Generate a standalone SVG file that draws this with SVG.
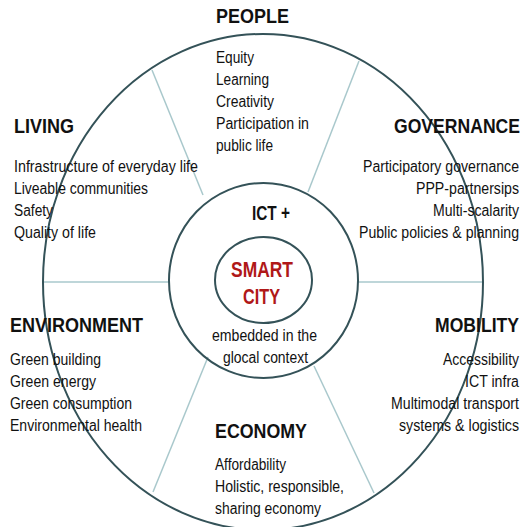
<svg xmlns="http://www.w3.org/2000/svg" width="522" height="527" viewBox="0 0 522 527">
<style>
.ring{fill:none;stroke:#345258;stroke-width:2}
.spoke{stroke:#a9c8cc;stroke-width:1.5}
text{font-family:"Liberation Sans",Arial,sans-serif;fill:#111111}
.t{font-size:21px;font-weight:bold}
.b{font-size:16px}
.red{fill:#b01818;font-size:22px;font-weight:bold}
</style>
<rect width="522" height="527" fill="#ffffff"/>
<g id="connectors">
<line class="spoke" x1="43" y1="282" x2="169" y2="282"/>
<line class="spoke" x1="358" y1="282" x2="483" y2="282"/>
<line class="spoke" x1="152" y1="70" x2="203" y2="195"/>
<line class="spoke" x1="359" y1="61" x2="308" y2="192"/>
<line class="spoke" x1="208" y1="357" x2="153" y2="492"/>
<line class="spoke" x1="314" y1="366" x2="374" y2="493"/>
</g>
<g id="outer-ring"><ellipse class="ring" cx="263" cy="282" rx="220" ry="248"/></g>
<g id="ict-ring"><ellipse class="ring" cx="263.5" cy="280.5" rx="94.5" ry="97.5"/>
<text class="t" x="252" y="220" textLength="38" lengthAdjust="spacingAndGlyphs" style="font-size:20px">ICT +</text>
<text class="b" x="212" y="341" textLength="105" lengthAdjust="spacingAndGlyphs">embedded in the</text>
<text class="b" x="223" y="363" textLength="85" lengthAdjust="spacingAndGlyphs">glocal context</text>
</g>
<g id="smart-city"><ellipse class="ring" cx="263.5" cy="280" rx="48.5" ry="43"/>
<text class="red" x="231" y="277" textLength="62" lengthAdjust="spacingAndGlyphs">SMART</text>
<text class="red" x="243" y="304" textLength="37" lengthAdjust="spacingAndGlyphs">CITY</text>
</g>
<g id="people">
<text class="t" x="216" y="23" textLength="73" lengthAdjust="spacingAndGlyphs">PEOPLE</text>
<text class="b" x="216" y="63" textLength="38" lengthAdjust="spacingAndGlyphs">Equity</text>
<text class="b" x="216" y="85" textLength="53" lengthAdjust="spacingAndGlyphs">Learning</text>
<text class="b" x="216" y="107" textLength="58" lengthAdjust="spacingAndGlyphs">Creativity</text>
<text class="b" x="216" y="129" textLength="93" lengthAdjust="spacingAndGlyphs">Participation in</text>
<text class="b" x="216" y="151" textLength="57" lengthAdjust="spacingAndGlyphs">public life</text>
</g>
<g id="living">
<text class="t" x="14" y="133" textLength="60" lengthAdjust="spacingAndGlyphs">LIVING</text>
<text class="b" x="14" y="172" textLength="184" lengthAdjust="spacingAndGlyphs">Infrastructure of everyday life</text>
<text class="b" x="14" y="194" textLength="134" lengthAdjust="spacingAndGlyphs">Liveable communities</text>
<text class="b" x="14" y="216" textLength="39" lengthAdjust="spacingAndGlyphs">Safety</text>
<text class="b" x="14" y="238" textLength="82" lengthAdjust="spacingAndGlyphs">Quality of life</text>
</g>
<g id="governance">
<text class="t" x="394" y="133" textLength="126" lengthAdjust="spacingAndGlyphs">GOVERNANCE</text>
<text class="b" x="363" y="172" textLength="156" lengthAdjust="spacingAndGlyphs">Participatory governance</text>
<text class="b" x="416" y="194" textLength="103" lengthAdjust="spacingAndGlyphs">PPP-partnersips</text>
<text class="b" x="433" y="216" textLength="86" lengthAdjust="spacingAndGlyphs">Multi-scalarity</text>
<text class="b" x="359" y="238" textLength="160" lengthAdjust="spacingAndGlyphs">Public policies &amp; planning</text>
</g>
<g id="environment">
<text class="t" x="10" y="332" textLength="133" lengthAdjust="spacingAndGlyphs">ENVIRONMENT</text>
<text class="b" x="10" y="365" textLength="91" lengthAdjust="spacingAndGlyphs">Green building</text>
<text class="b" x="10" y="387" textLength="86" lengthAdjust="spacingAndGlyphs">Green energy</text>
<text class="b" x="10" y="409" textLength="122" lengthAdjust="spacingAndGlyphs">Green consumption</text>
<text class="b" x="10" y="431" textLength="132" lengthAdjust="spacingAndGlyphs">Environmental health</text>
</g>
<g id="mobility">
<text class="t" x="435" y="332" textLength="84" lengthAdjust="spacingAndGlyphs">MOBILITY</text>
<text class="b" x="443" y="365" textLength="76" lengthAdjust="spacingAndGlyphs">Accessibility</text>
<text class="b" x="465" y="387" textLength="54" lengthAdjust="spacingAndGlyphs">ICT infra</text>
<text class="b" x="391" y="409" textLength="128" lengthAdjust="spacingAndGlyphs">Multimodal transport</text>
<text class="b" x="399" y="431" textLength="120" lengthAdjust="spacingAndGlyphs">systems &amp; logistics</text>
</g>
<g id="economy">
<text class="t" x="215" y="438" textLength="92" lengthAdjust="spacingAndGlyphs">ECONOMY</text>
<text class="b" x="215" y="470" textLength="71" lengthAdjust="spacingAndGlyphs">Affordability</text>
<text class="b" x="215" y="492" textLength="129" lengthAdjust="spacingAndGlyphs">Holistic, responsible,</text>
<text class="b" x="215" y="514" textLength="106" lengthAdjust="spacingAndGlyphs">sharing economy</text>
</g>
</svg>
